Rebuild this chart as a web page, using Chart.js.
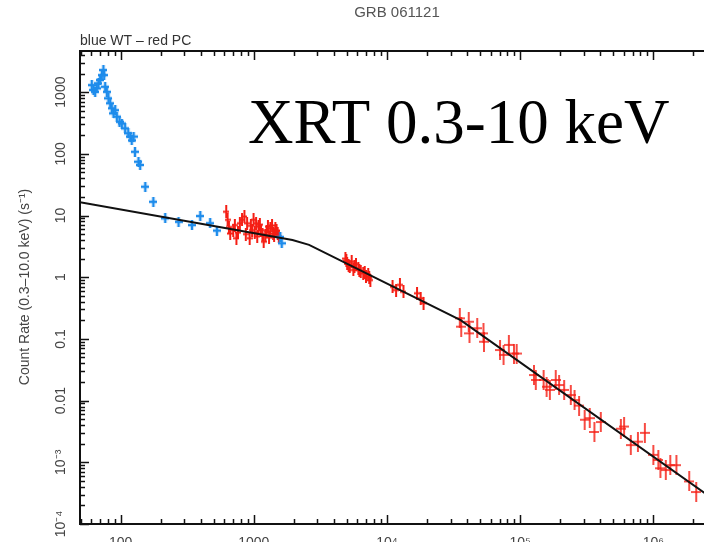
<!DOCTYPE html>
<html>
<head>
<meta charset="utf-8">
<title>GRB 061121 XRT light curve</title>
<script src="https://cdn.jsdelivr.net/npm/chart.js@4.4.0/dist/chart.umd.min.js"></script>
<style>
  html, body { margin: 0; padding: 0; background: #fff; overflow: hidden; }
  #wrap { width: 704px; height: 542px; overflow: hidden; }
  canvas { display: block; }
</style>
</head>
<body>
<div id="wrap"><canvas id="lc" width="740" height="560"></canvas></div>
<script>
  'use strict';

  // WT mode (blue)
  const wtTime = [60.7, 62.5, 64.3, 66.2, 68.1, 70.1, 72.2, 74.2, 75.2, 76.5, 78.7, 81, 83.4, 85.8,
    88.3, 91, 93.6, 98, 102, 108, 114, 118, 121, 125, 128, 136, 140, 153, 176, 216, 272, 343,
    396, 470, 528, 1580, 1620];
  const wtRate = [1300, 1080, 1010, 1150, 1390, 1570, 1890, 2280, 1890, 1220, 1010, 795, 660, 547,
    453, 510, 400, 330, 310, 259, 215, 190, 165, 190, 108, 74.5, 66, 29.3, 16.7, 9.0, 7.9, 7.0,
    9.8, 7.5, 5.7, 4.5, 3.55];

  // PC mode (red), first orbits
  const pcTime = [620, 635, 650, 665, 700, 720, 740, 760, 785, 815, 850, 870, 890, 930, 950, 970,
    995, 1015, 1040, 1060, 1085, 1110, 1130, 1160, 1185, 1220, 1250, 1275, 1300, 1330, 1370, 1395,
    1420, 1450, 1480, 1510, 1540,
    4870, 4950, 5020, 5150, 5250, 5430, 5590, 5700, 5850, 6090, 6200, 6350, 6630, 6800, 6950,
    7230, 7350, 7500,
    11000, 11700, 12500, 13300, 16800, 17900, 18800];
  const pcRate = [11.5, 8.5, 6.5, 5.1, 5.8, 7.0, 4.3, 5.3, 7.5, 8.5, 9.6, 5.0, 7.5, 4.3, 6.8, 5.8,
    8.5, 5.3, 7.5, 4.6, 6.6, 7.1, 5.8, 5.0, 3.76, 4.8, 5.6, 6.6, 4.4, 6.2, 6.9, 5.1,
    4.7, 6.2, 5.7, 5.1, 4.6,
    2.0, 1.85, 1.68, 1.55, 1.48, 1.78, 1.31, 1.5, 1.63, 1.4, 1.3, 1.25, 1.16, 1.2, 1.02,
    1.1, 0.98, 0.9,
    0.70, 0.62, 0.75, 0.58, 0.55, 0.455, 0.38];

  // PC mode (red), late time
  const pcLateTime = [35200, 36100, 41100, 41600, 47600, 53000, 53500, 70600, 75000, 82200, 89800,
    94100, 127000, 131000, 150000, 158000, 167000, 185000, 196000, 214000, 240000, 256000, 277000,
    305000, 333000, 361000, 403000, 570000, 603000, 677000, 766000, 863000, 1.0e6, 1.09e6, 1.13e6,
    1.24e6, 1.34e6, 1.49e6, 1.86e6, 2.1e6];
  const pcLateRate = [0.216, 0.158, 0.19, 0.123, 0.149, 0.123, 0.090, 0.066, 0.055, 0.080, 0.058,
    0.058, 0.026, 0.0216, 0.0216, 0.0168, 0.0149, 0.0216, 0.0179, 0.0149, 0.0123, 0.0102, 0.0083,
    0.0049, 0.0052, 0.0031, 0.0045, 0.0035, 0.0038, 0.0019, 0.00216, 0.0030, 0.00132, 0.00109, 0.00080,
    0.00075, 0.0009, 0.0009, 0.00049, 0.00033];

  // broken power-law model
  const modelTime = [49.5, 1950, 2600, 35700, 3.83e6];
  const modelRate = [16.4, 4.0, 3.35, 0.202, 1.58e-4];

  const xTickValues = [100, 1000, 1e4, 1e5, 1e6];
  const xTickLabels = ['100', '1000', '10\u2074', '10\u2075', '10\u2076'];
  const yTickValues = [1e-4, 1e-3, 0.01, 0.1, 1, 10, 100, 1000];
  const yTickLabels = ['10\u207B\u2074', '10\u207B\u00B3', '0.01', '0.1', '1', '10', '100', '1000'];

  const sans = '"Liberation Sans", Helvetica, Arial, sans-serif';

  function toPoints(xs, ys) {
    return xs.map((x, i) => ({x: x, y: ys[i]}));
  }

  // cross marker (error bar look)
  function crossMark(w, h, lw, color) {
    let c = document.createElement('canvas');
    c.width = w;
    c.height = h;
    let g = c.getContext('2d');
    g.strokeStyle = color;
    g.lineWidth = lw;
    g.beginPath();
    g.moveTo(0, h / 2);
    g.lineTo(w, h / 2);
    g.moveTo(w / 2, 0);
    g.lineTo(w / 2, h);
    g.stroke();
    return c;
  }

  const blue = 'rgb(30,140,235)';
  const red = 'rgb(245,30,20)';

  let framePlugin = {
    id: 'frame',
    afterDraw: function(chart) {
      let ctx = chart.ctx;
      let a = chart.chartArea;
      let xs = chart.scales.x;
      let ys = chart.scales.y;
      ctx.save();

      // ticks on all four sides, pointing inward
      ctx.strokeStyle = '#111';
      ctx.lineWidth = 1.5;
      ctx.beginPath();
      for (let d = 10; d <= 1e7; d *= 10) {
        for (let m = 1; m <= 9; m++) {
          let v = m * d;
          if (v < xs.min || v > xs.max) continue;
          let px = Math.round(xs.getPixelForValue(v)) + 0.5;
          let len = m === 1 ? 9 : 5;
          ctx.moveTo(px, a.bottom);
          ctx.lineTo(px, a.bottom - len);
          ctx.moveTo(px, a.top);
          ctx.lineTo(px, a.top + len);
        }
      }
      for (let d = 1e-4; d <= 1e4; d *= 10) {
        for (let m = 1; m <= 9; m++) {
          let v = m * d;
          if (v < ys.min * 0.999 || v > ys.max) continue;
          let py = Math.round(ys.getPixelForValue(v)) + 0.5;
          let len = m === 1 ? 9 : 5;
          ctx.moveTo(a.left, py);
          ctx.lineTo(a.left + len, py);
          ctx.moveTo(a.right, py);
          ctx.lineTo(a.right - len, py);
        }
      }
      ctx.stroke();

      ctx.lineWidth = 2;
      ctx.strokeRect(a.left, a.top, a.right - a.left, a.bottom - a.top);

      // tick labels
      ctx.fillStyle = '#444';
      ctx.font = '14px ' + sans;
      ctx.textAlign = 'center';
      ctx.textBaseline = 'top';
      xTickValues.forEach((v, i) => {
        ctx.fillText(xTickLabels[i], xs.getPixelForValue(v), a.bottom + 12);
      });
      ctx.textBaseline = 'middle';
      yTickValues.forEach((v, i) => {
        ctx.save();
        ctx.translate(61, ys.getPixelForValue(v));
        ctx.rotate(-Math.PI / 2);
        ctx.fillText(yTickLabels[i], 0, 0);
        ctx.restore();
      });

      // axis title
      ctx.save();
      ctx.translate(25, 287);
      ctx.rotate(-Math.PI / 2);
      ctx.fillText('Count Rate (0.3\u201310.0 keV) (s\u207B\u00B9)', 0, 0);
      ctx.restore();

      // titles
      ctx.fillStyle = '#555';
      ctx.font = '15px ' + sans;
      ctx.textBaseline = 'alphabetic';
      ctx.fillText('GRB 061121', 397, 17);
      ctx.fillStyle = '#333';
      ctx.font = '14px ' + sans;
      ctx.textAlign = 'left';
      ctx.fillText('blue WT \u2013 red PC', 80, 45);

      ctx.fillStyle = '#000';
      ctx.font = '63px "Liberation Serif", "Times New Roman", serif';
      ctx.fillText('XRT 0.3-10 keV', 248, 143);
      ctx.restore();
    },
  };

  let config = {
    type: 'scatter',
    data: {
      datasets: [
        {
          label: 'model',
          data: toPoints(modelTime, modelRate),
          showLine: true,
          borderColor: '#111',
          borderWidth: 2,
          pointRadius: 0,
          fill: false,
        },
        {
          label: 'WT',
          data: toPoints(wtTime, wtRate),
          pointStyle: crossMark(8, 10, 2.5, blue),
        },
        {
          label: 'PC',
          data: toPoints(pcTime, pcRate),
          pointStyle: crossMark(6, 13, 2, red),
        },
        {
          label: 'PC late',
          data: toPoints(pcLateTime, pcLateRate),
          pointStyle: crossMark(10, 20, 1.6, red),
        },
      ],
    },
    options: {
      responsive: false,
      animation: false,
      layout: {
        padding: {left: 80, top: 51, right: 9, bottom: 36},
      },
      plugins: {
        legend: {display: false},
        tooltip: {enabled: false},
      },
      scales: {
        x: {type: 'logarithmic', min: 49.5, max: 3.83e6, display: false},
        y: {type: 'logarithmic', min: 1e-4, max: 4640, display: false},
      },
    },
    plugins: [framePlugin],
  };

  let lightCurve = new Chart(document.getElementById('lc'), config);
</script>
</body>
</html>
